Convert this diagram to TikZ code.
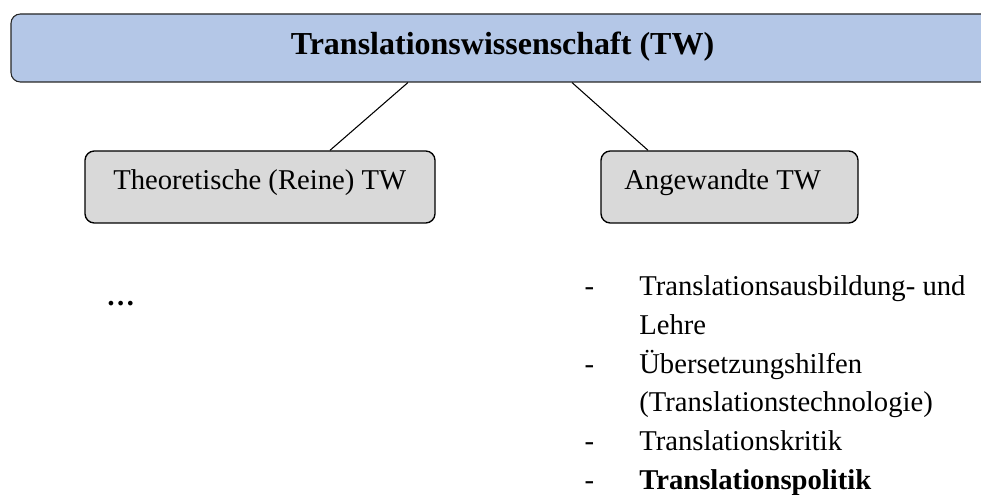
\documentclass[tikz,border=0pt]{standalone}
\usepackage{fontspec}
\setmainfont{Liberation Serif}
\definecolor{headblue}{HTML}{B4C7E7}
\definecolor{boxgray}{HTML}{D9D9D9}
\begin{document}
\begin{tikzpicture}[x=0.75pt,y=-0.75pt,
  every node/.style={font=\fontsize{21.5}{29}\selectfont, inner sep=0pt},
  headbox/.style={draw=black!85, fill=headblue, rounded corners=7pt, line width=0.8pt,
    minimum width=737.25pt, minimum height=51pt},
  branchbox/.style={draw=black, fill=boxgray, rounded corners=7pt, line width=1pt,
    minimum height=54pt},
  link/.style={draw=black, line width=0.8pt},
  label/.style={anchor=base west},
  itemtext/.style={anchor=base west},
  dashmark/.style={anchor=base}]
\useasboundingbox (0,0) rectangle (981,495);
\clip (0,0) rectangle (981,495);

% header bar running off the right edge
\node[headbox] (head) at (502.5,48) {};
\node[anchor=base, font=\fontsize{24}{29}\selectfont\bfseries] (headtext) at (502.5,55)
  {Translationswissenschaft (TW)};

% the two branches
\node[branchbox, minimum width=262.5pt] (theo) at (260,187) {};
\node[label] (theotext) at (113,190) {Theoretische (Reine) TW};
\node[branchbox, minimum width=192.75pt] (appl) at (729.5,187) {};
\node[label] (appltext) at (624,190) {Angewandte TW};

\draw[link] ([xshift=-70.9pt]head.south) -- ([xshift=52.5pt]theo.north);
\draw[link] ([xshift=52.1pt]head.south) -- ([xshift=-61.1pt]appl.north);

% pure branch: left open
\node[anchor=base west] (more) at (106,305.5) {\textbf{…}};

% applied branch: list of sub-fields
\node[dashmark] (d1) at (589.5,296) {-};
\node[itemtext] (i1) at (639,296) {Translationsausbildung- und};
\node[itemtext] (i1b) at (639,334.6) {Lehre};
\node[dashmark] (d2) at (589.5,373.2) {-};
\node[itemtext] (i2) at (639,373.2) {Übersetzungshilfen};
\node[itemtext] (i2b) at (639,411.8) {(Translationstechnologie)};
\node[dashmark] (d3) at (589.5,450.4) {-};
\node[itemtext] (i3) at (639,450.4) {Translationskritik};
\node[dashmark] (d4) at (589.5,489) {-};
\node[itemtext] (i4) at (639,489) {\textbf{Translationspolitik}};
\end{tikzpicture}
\end{document}
